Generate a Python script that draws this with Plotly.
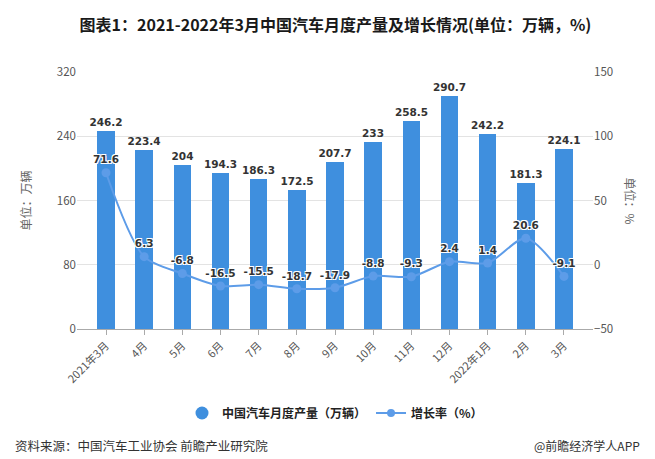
import plotly.graph_objects as go

# data
months = ["2021年3月", "4月", "5月", "6月", "7月", "8月", "9月", "10月",
          "11月", "12月", "2022年1月", "2月", "3月"]
output = [246.2, 223.4, 204, 194.3, 186.3, 172.5, 207.7, 233,
          258.5, 290.7, 242.2, 181.3, 224.1]
growth = [71.6, 6.3, -6.8, -16.5, -15.5, -18.7, -17.9, -8.8,
          -9.3, 2.4, 1.4, 20.6, -9.1]

BAR_COLOR = "#3f8fde"
LINE_COLOR = "#5d9ce8"
CJK = "Noto Sans CJK SC"
NUM = "DejaVu Sans"

fig = go.Figure()

fig.add_trace(go.Bar(
    x=months, y=output, width=0.46,
    marker=dict(color=BAR_COLOR, line=dict(width=0)),
    text=[f"{v:g}" for v in output], textposition="outside",
    constraintext="none",
    textfont=dict(family=NUM, size=10.5, color="#333", weight="bold"),
    cliponaxis=False, showlegend=False, hoverinfo="skip",
))

fig.add_trace(go.Scatter(
    x=months, y=growth, yaxis="y2", mode="lines+markers+text",
    line=dict(color=LINE_COLOR, width=2, shape="spline", smoothing=0.8),
    marker=dict(color=LINE_COLOR, size=9),
    text=[f"{v:g}" for v in growth], textposition="top center",
    textfont=dict(family=NUM, size=10.5, color="#333", weight="bold",
                  shadow="-1px -1px 0 #fff, 1px -1px 0 #fff, -1px 1px 0 #fff, 1px 1px 0 #fff"),
    cliponaxis=False, showlegend=False, hoverinfo="skip",
))

# legend entries (bar shown as circle, as in the reference)
fig.add_trace(go.Scatter(
    x=[None], y=[None], mode="markers", name="中国汽车月度产量（万辆）",
    marker=dict(color=BAR_COLOR, size=13),
))
fig.add_trace(go.Scatter(
    x=[None], y=[None], mode="lines+markers", name="增长率（%）",
    line=dict(color=LINE_COLOR, width=2), marker=dict(color=LINE_COLOR, size=8),
))

src_y = (321 - 437) / 257

fig.update_layout(
    width=655, height=459,
    margin=dict(l=69, r=70, t=64, b=138),
    paper_bgcolor="white", plot_bgcolor="white",
    bargap=0,
    title=dict(
        text="图表1：2021-2022年3月中国汽车月度产量及增长情况(单位：万辆，%)",
        x=0.5, xanchor="center", y=1 - 17 / 459, yanchor="middle",
        font=dict(family=CJK, size=16, color="#1a1a1a", weight="bold"),
    ),
    xaxis=dict(
        type="category", range=[-0.76, 12.76],
        showline=True, linecolor="#aaaaaa", linewidth=1,
        ticks="outside", ticklen=5, tickcolor="#aaaaaa",
        tickangle=-45, showgrid=False,
        tickfont=dict(family=CJK, size=11, color="#555"),
    ),
    yaxis=dict(
        range=[0, 320], dtick=80, showgrid=True, gridcolor="#e3e3e3",
        zeroline=False, showline=False, ticks="",
        tickfont=dict(family=CJK, size=11.5, color="#555"),
    ),
    yaxis2=dict(
        overlaying="y", side="right", range=[-50, 150], dtick=50,
        showgrid=False, zeroline=False, showline=False, ticks="",
        tickfont=dict(family=CJK, size=11.5, color="#555"),
    ),
    legend=dict(
        orientation="h", x=0.5, xanchor="center", y=(321 - 405) / 257,
        yanchor="middle",
        font=dict(family=CJK, size=12, color="#222", weight="bold"),
        itemwidth=30,
    ),
    annotations=[
        dict(text="单位：万辆", xref="paper", yref="paper",
             x=(17 - 69) / 516, xanchor="center", y=0.5, yanchor="middle",
             textangle=-90, showarrow=False,
             font=dict(family=CJK, size=12, color="#666")),
        dict(text="单位：%", xref="paper", yref="paper",
             x=(622 - 69) / 516, xanchor="center", y=0.5, yanchor="middle",
             textangle=90, showarrow=False,
             font=dict(family=CJK, size=12, color="#666")),
        dict(text="资料来源：中国汽车工业协会 前瞻产业研究院", xref="paper", yref="paper",
             x=(5 - 69) / 516, xanchor="left", y=src_y, yanchor="middle",
             showarrow=False, font=dict(family=CJK, size=12.5, color="#333")),
        dict(text="@前瞻经济学人APP", xref="paper", yref="paper",
             x=(524 - 69) / 516, xanchor="left", y=src_y, yanchor="middle",
             showarrow=False, font=dict(family=CJK, size=12, color="#333")),
    ],
)

fig.write_html("out.html")
